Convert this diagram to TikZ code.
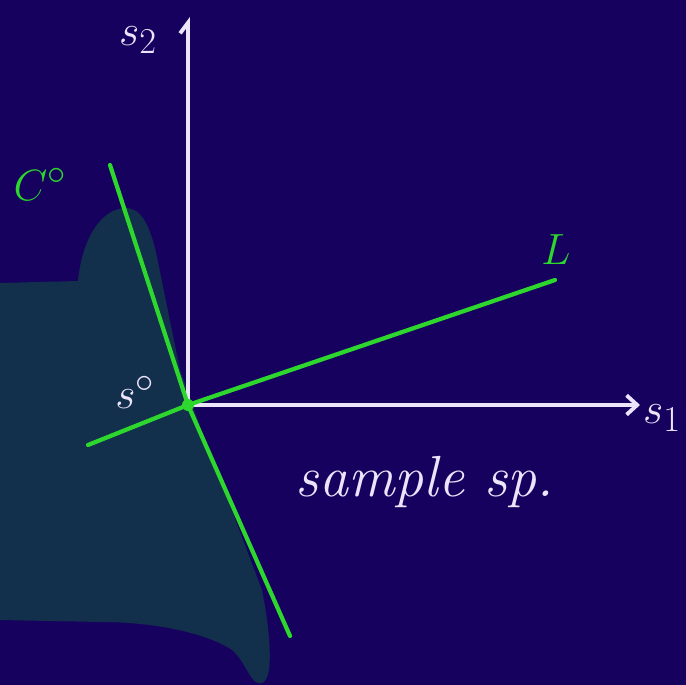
\documentclass[tikz,border=0pt]{standalone}
\usepackage{amsmath,amssymb}
\usetikzlibrary{arrows.meta,positioning}
\definecolor{bgnavy}{RGB}{22,2,94}
\definecolor{blobteal}{RGB}{18,47,76}
\definecolor{chalk}{RGB}{236,228,250}
\definecolor{lgreen}{RGB}{45,215,45}
\newcommand{\hand}[1]{\fontsize{#1}{#1}\selectfont}
\tikzset{
  axisln/.style={chalk, line width=2.2pt, line cap=round},
  grln/.style={lgreen, line width=2.4pt, line cap=round},
  wlab/.style={text=chalk, font=\hand{28}, inner sep=0pt},
  glab/.style={text=lgreen, font=\hand{28}, inner sep=0pt},
}

\begin{document}
\begin{tikzpicture}[x=0.02cm,y=-0.02cm]
    \fill[bgnavy] (0,0) rectangle (686,685);
    \useasboundingbox (0,0) rectangle (686,685);
    % the shadow at the left
    \fill[blobteal] (0,283) -- (78,281) .. controls (82,240) and (100,210) .. (124,208)
      .. controls (140,207) and (150,222) .. (158,262) -- (180,370) -- (202,432) -- (262,590)
      .. controls (268,620) and (276,678) .. (262,683) .. controls (250,686) and (248,664) .. (232,650)
      .. controls (210,635) and (160,622) .. (100,622) -- (0,620) -- cycle;
    \coordinate (O) at (188,405);
    \coordinate (s2end) at (188,17);
    \coordinate (s1end) at (640,405);
    \coordinate (Ltop) at (555,280);
    \coordinate (Lbot) at (88,445);
    \coordinate (Ctop) at (110,165);
    \coordinate (Cbot) at (290,636);
    \draw[axisln, -{Straight Barb[left,length=6pt,width=9pt]}] (O) -- (s2end);
    \draw[axisln, -{Straight Barb[length=6pt,width=11pt]}] (O) -- (s1end);
    \draw[grln] (Lbot) -- (O) -- (Ltop);
    \draw[grln] (Ctop) -- (O) -- (Cbot);
    \fill[lgreen] (O) circle (6);
    \node[wlab] (s2) at (138,40) {$s_2$};
    \node[wlab] (s1) at (662,418) {$s_1$};
    \node[wlab] (s0) at (135,392) {$s^\circ$};
    \node[glab] (C0) at (40,184) {$C^\circ$};
    \node[glab] (L) at (556,250) {$L$};
    \node[wlab, font=\hand{33}\itshape] (samp) at (425,482) {sample sp.};
\end{tikzpicture}
\end{document}
